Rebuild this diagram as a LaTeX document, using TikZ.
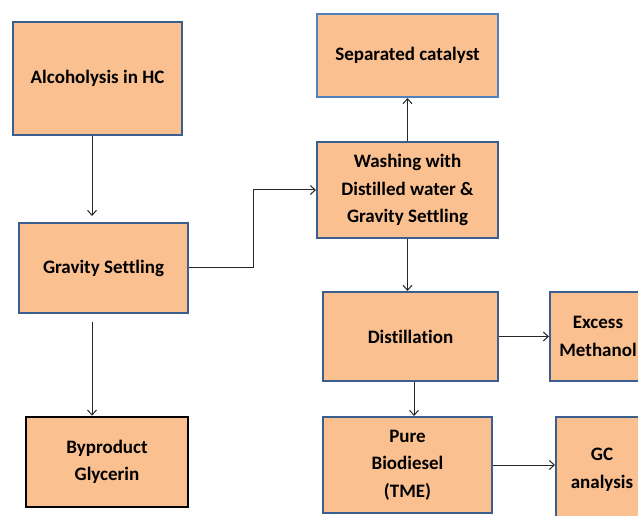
\documentclass[tikz,border=0pt]{standalone}
\usepackage{fontspec}
\setmainfont{Carlito}[Ligatures=NoCommon]
\usetikzlibrary{arrows.meta}
\definecolor{boxfill}{HTML}{FAC090}
\definecolor{boxline}{HTML}{3A5F8E}
\definecolor{boxlinelight}{HTML}{4F81BD}
\begin{document}
\begin{tikzpicture}[x=1pt,y=-1pt,>={Straight Barb[length=5pt,width=9pt]}]
		\tikzset{box/.style = {draw=boxline, line width=2pt, fill=boxfill, align=center, inner sep=0pt, font=\fontsize{19}{27.5}\selectfont\bfseries}}
		\tikzset{edge/.style = {->, line width=1pt, black!85}}
		
		\clip (0,0) rectangle (638,516);
		
		\node[box, minimum width=169, minimum height=113] (1) at ( 97.5,  78.5) {Alcoholysis in HC};
		\node[box, minimum width=169, minimum height=90]  (2) at (103.5, 268)   {Gravity Settling};
		\node[box, minimum width=162, minimum height=90, draw=black, line width=2.6pt] (3) at (107, 462) {Byproduct\\Glycerin};
		\node[box, minimum width=181, minimum height=83, draw=boxlinelight] (4) at (407.5, 55.5) {Separated catalyst};
		\node[box, minimum width=181, minimum height=96]  (5) at (407.5, 190)   {Washing with\\Distilled water \&\\Gravity Settling};
		\node[box, minimum width=175, minimum height=89]  (6) at (410.5, 336.5) {Distillation};
		\node[box, minimum width=96,  minimum height=89]  (7) at (598,   336.5) {Excess\\Methanol};
		\node[box, minimum width=169, minimum height=96]  (8) at (407.5, 465)   {Pure\\Biodiesel\\(TME)};
		\node[box, minimum width=92,  minimum height=106] (9) at (602,   470)   {GC\\analysis};
		
		\draw[edge, shorten >=6pt] ([xshift=-5.5pt]1.south) -- ([xshift=-5.5pt]1.south |- 2.north);
		\draw[edge, shorten <=8pt] ([xshift=-11.5pt]2.south) -- ([xshift=-11.5pt]2.south |- 3.north);
		\draw[edge] (2.east) -- ++(64.5,0) |- (5.west);
		\draw[edge] (5) to (4);
		\draw[edge] (5.south) -- (5.south |- 6.north);
		\draw[edge] (6) to (7);
		\draw[edge] ([xshift=3.5pt]6.south) -- ([xshift=3.5pt]6.south |- 8.north);
		\draw[edge] (8.east) -- (8.east -| 9.west);
		\end{tikzpicture}
\end{document}
